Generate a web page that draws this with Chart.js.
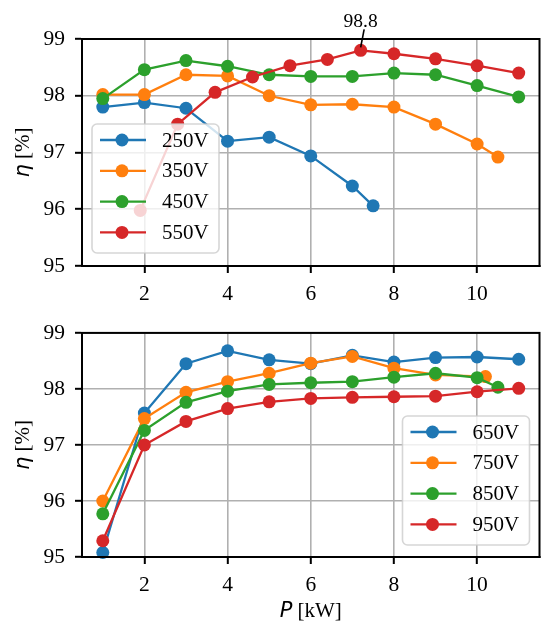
<!DOCTYPE html>
<html lang="en">
<head>
  <meta charset="UTF-8">
  <title>Efficiency vs power</title>
  <script src="https://cdn.jsdelivr.net/npm/chart.js"></script>
  <style>
    body {
      margin: 0;
      padding: 0;
      background: #fff;
    }
    #wrap {
      position: relative;
      width: 546px;
      height: 623px;
    }
    canvas {
      position: absolute;
      left: 0;
    }
  </style>
</head>
<body>
  <div id="wrap">
    <canvas id="topChart" width="546" height="310" style="top:0"></canvas>
    <canvas id="bottomChart" width="546" height="313" style="top:310px"></canvas>
  </div>

  <script>
    // tick labels
    var xTicks = [2, 4, 6, 8, 10];
    var yTicks = [95, 96, 97, 98, 99];

    // top panel: P [kW] and efficiency [%] per input voltage
    var topLabels = ['250V', '350V', '450V', '550V'];
    var p250 = [1, 2, 3, 4, 5, 6, 7, 7.5];
    var eta250 = [97.8, 97.88, 97.78, 97.2, 97.27, 96.94, 96.41, 96.06];
    var p350 = [1, 2, 3, 4, 5, 6, 7, 8, 9, 10, 10.5];
    var eta350 = [98.02, 98.02, 98.37, 98.35, 98.0, 97.84, 97.85, 97.8, 97.5, 97.15, 96.92];
    var p450 = [1, 2, 3, 4, 5, 6, 7, 8, 9, 10, 11];
    var eta450 = [97.95, 98.46, 98.62, 98.52, 98.37, 98.34, 98.34, 98.4, 98.37, 98.18, 97.98];
    var p550 = [1.9, 2.8, 3.7, 4.6, 5.5, 6.4, 7.2, 8, 9, 10, 11];
    var eta550 = [95.98, 97.5, 98.06, 98.33, 98.53, 98.64, 98.8, 98.74, 98.65, 98.53, 98.4];

    // bottom panel
    var bottomLabels = ['650V', '750V', '850V', '950V'];
    var p650 = [1, 2, 3, 4, 5, 6, 7, 8, 9, 10, 11];
    var eta650 = [95.08, 97.57, 98.45, 98.68, 98.52, 98.45, 98.6, 98.48, 98.56, 98.57, 98.53];
    var p750 = [1, 2, 3, 4, 5, 6, 7, 8, 9, 10.2];
    var eta750 = [96.0, 97.47, 97.94, 98.13, 98.28, 98.46, 98.58, 98.37, 98.25, 98.22];
    var p850 = [1, 2, 3, 4, 5, 6, 7, 8, 9, 10, 10.5];
    var eta850 = [95.77, 97.26, 97.76, 97.96, 98.08, 98.11, 98.13, 98.21, 98.28, 98.2, 98.03];
    var p950 = [1, 2, 3, 4, 5, 6, 7, 8, 9, 10, 11];
    var eta950 = [95.29, 97.0, 97.42, 97.65, 97.77, 97.83, 97.85, 97.86, 97.87, 97.95, 98.01];

    // peak label on the 550V curve
    var peakP = 7.2;
    var peakEta = 98.8;
    var peakText = '98.8';

    var colors = ['#1f77b4', '#ff7f0e', '#2ca02c', '#d62728'];
    var serif = '"Liberation Serif", "Times New Roman", serif';

    Chart.defaults.font.family = serif;
    Chart.defaults.color = '#000';

    function makeSet(label, xs, ys, i) {
      return {
        label: label,
        data: xs.map(function (x, k) { return { x: x, y: ys[k] }; }),
        borderColor: colors[i],
        backgroundColor: colors[i],
        borderWidth: 2.3,
        pointRadius: 6.5,
        pointBorderWidth: 0,
        pointHoverRadius: 6.5,
        tension: 0,
        order: 4 - i,
        clip: false
      };
    }

    // frame on all four sides, like matplotlib spines
    var framePlugin = {
      id: 'frame',
      afterDatasetsDraw: function (chart) {
        var a = chart.chartArea, ctx = chart.ctx;
        ctx.save();
        ctx.strokeStyle = '#000';
        ctx.lineWidth = 2;
        ctx.strokeRect(a.left, a.top, a.right - a.left, a.bottom - a.top);
        ctx.restore();
      }
    };

    // legend box drawn inside the plot area
    var boxLegend = {
      id: 'boxLegend',
      afterDatasetsDraw: function (chart, args, opts) {
        var a = chart.chartArea, ctx = chart.ctx;
        var w = 127, h = 129;
        var x = opts.corner === 'right' ? a.right - 10 - w : a.left + 10;
        var y = a.bottom - opts.bottomGap - h;
        ctx.save();
        ctx.beginPath();
        ctx.roundRect(x, y, w, h, 5);
        ctx.fillStyle = 'rgba(255,255,255,0.8)';
        ctx.fill();
        ctx.strokeStyle = 'rgba(204,204,204,0.8)';
        ctx.lineWidth = 1.6;
        ctx.stroke();
        chart.data.datasets.forEach(function (ds, i) {
          var ry = y + 16 + i * 30.8;
          ctx.strokeStyle = ds.borderColor;
          ctx.lineWidth = 2.3;
          ctx.beginPath();
          ctx.moveTo(x + 8, ry);
          ctx.lineTo(x + 54, ry);
          ctx.stroke();
          ctx.fillStyle = ds.borderColor;
          ctx.beginPath();
          ctx.arc(x + 30, ry, 6.5, 0, Math.PI * 2);
          ctx.fill();
          ctx.fillStyle = '#000';
          ctx.font = '21px ' + serif;
          ctx.textBaseline = 'middle';
          ctx.textAlign = 'left';
          ctx.fillText(ds.label, x + opts.textOffset, ry + 1);
        });
        ctx.restore();
      }
    };

    // mixed-font axis titles: italic symbol + serif unit
    function drawMixed(ctx, sym, unit, cx, cy) {
      ctx.font = 'italic 21px "DejaVu Sans"';
      var w1 = ctx.measureText(sym).width;
      ctx.font = '21px ' + serif;
      var w2 = ctx.measureText(unit).width;
      var x0 = cx - (w1 + w2) / 2;
      ctx.textAlign = 'left';
      ctx.textBaseline = 'alphabetic';
      ctx.fillStyle = '#000';
      ctx.font = 'italic 21px "DejaVu Sans"';
      ctx.fillText(sym, x0, cy);
      ctx.font = '21px ' + serif;
      ctx.fillText(unit, x0 + w1, cy);
    }

    var axisTitles = {
      id: 'axisTitles',
      afterDraw: function (chart, args, opts) {
        var a = chart.chartArea, ctx = chart.ctx;
        ctx.save();
        ctx.translate(29, (a.top + a.bottom) / 2);
        ctx.rotate(-Math.PI / 2);
        drawMixed(ctx, '\u03b7', ' [%]', 0, 0);
        ctx.restore();
        if (opts.xTitle) {
          ctx.save();
          drawMixed(ctx, 'P', ' [kW]', (a.left + a.right) / 2, opts.xTitleY);
          ctx.restore();
        }
      }
    };

    var peakNote = {
      id: 'peakNote',
      afterDatasetsDraw: function (chart, args, opts) {
        if (!opts.show) return;
        var ctx = chart.ctx;
        var px = chart.scales.x.getPixelForValue(peakP);
        var py = chart.scales.y.getPixelForValue(peakEta);
        ctx.save();
        ctx.strokeStyle = '#000';
        ctx.lineWidth = 1.6;
        ctx.beginPath();
        ctx.moveTo(px + 3.5, py - 21);
        ctx.lineTo(px, py - 3);
        ctx.stroke();
        ctx.fillStyle = '#000';
        ctx.font = '19.5px ' + serif;
        ctx.textAlign = 'center';
        ctx.textBaseline = 'alphabetic';
        ctx.fillText(peakText, px, py - 23);
        ctx.restore();
      }
    };

    function makeOptions(xAxisHeight, padTop, extra) {
      return {
        responsive: false,
        animation: false,
        devicePixelRatio: 1,
        layout: { padding: { top: padTop, right: 1, left: 0, bottom: 0 } },
        plugins: {
          legend: { display: false },
          tooltip: { enabled: false },
          boxLegend: extra.legend,
          axisTitles: extra.titles,
          peakNote: extra.note
        },
        scales: {
          x: {
            type: 'linear',
            min: 0.5,
            max: 11.5,
            afterBuildTicks: function (scale) {
              scale.ticks = xTicks.map(function (v) { return { value: v }; });
            },
            afterFit: function (scale) { scale.height = xAxisHeight; },
            grid: { color: '#b0b0b0', lineWidth: 1.6, tickColor: '#000', tickLength: 7, tickWidth: 2 },
            border: { display: true, color: '#000', width: 2 },
            ticks: { font: { size: 21.5 }, padding: 8, maxRotation: 0 }
          },
          y: {
            type: 'linear',
            min: 95,
            max: 99,
            afterBuildTicks: function (scale) {
              scale.ticks = yTicks.map(function (v) { return { value: v }; });
            },
            afterFit: function (scale) { scale.width = 82; },
            grid: { color: '#b0b0b0', lineWidth: 1.6, tickColor: '#000', tickLength: 7, tickWidth: 2 },
            border: { display: true, color: '#000', width: 2 },
            ticks: { font: { size: 21.5 }, padding: 10 }
          }
        }
      };
    }

    new Chart(document.getElementById('topChart').getContext('2d'), {
      type: 'line',
      data: {
        datasets: [
          makeSet(topLabels[0], p250, eta250, 0),
          makeSet(topLabels[1], p350, eta350, 1),
          makeSet(topLabels[2], p450, eta450, 2),
          makeSet(topLabels[3], p550, eta550, 3)
        ]
      },
      options: makeOptions(44, 39, {
        legend: { corner: 'left', bottomGap: 13, textOffset: 70 },
        titles: { xTitle: false },
        note: { show: true }
      }),
      plugins: [framePlugin, boxLegend, axisTitles, peakNote]
    });

    new Chart(document.getElementById('bottomChart').getContext('2d'), {
      type: 'line',
      data: {
        datasets: [
          makeSet(bottomLabels[0], p650, eta650, 0),
          makeSet(bottomLabels[1], p750, eta750, 1),
          makeSet(bottomLabels[2], p850, eta850, 2),
          makeSet(bottomLabels[3], p950, eta950, 3)
        ]
      },
      options: makeOptions(66, 19, {
        legend: { corner: 'right', bottomGap: 12, textOffset: 70 },
        titles: { xTitle: true, xTitleY: 307 },
        note: { show: false }
      }),
      plugins: [framePlugin, boxLegend, axisTitles, peakNote]
    });
  </script>
</body>
</html>
